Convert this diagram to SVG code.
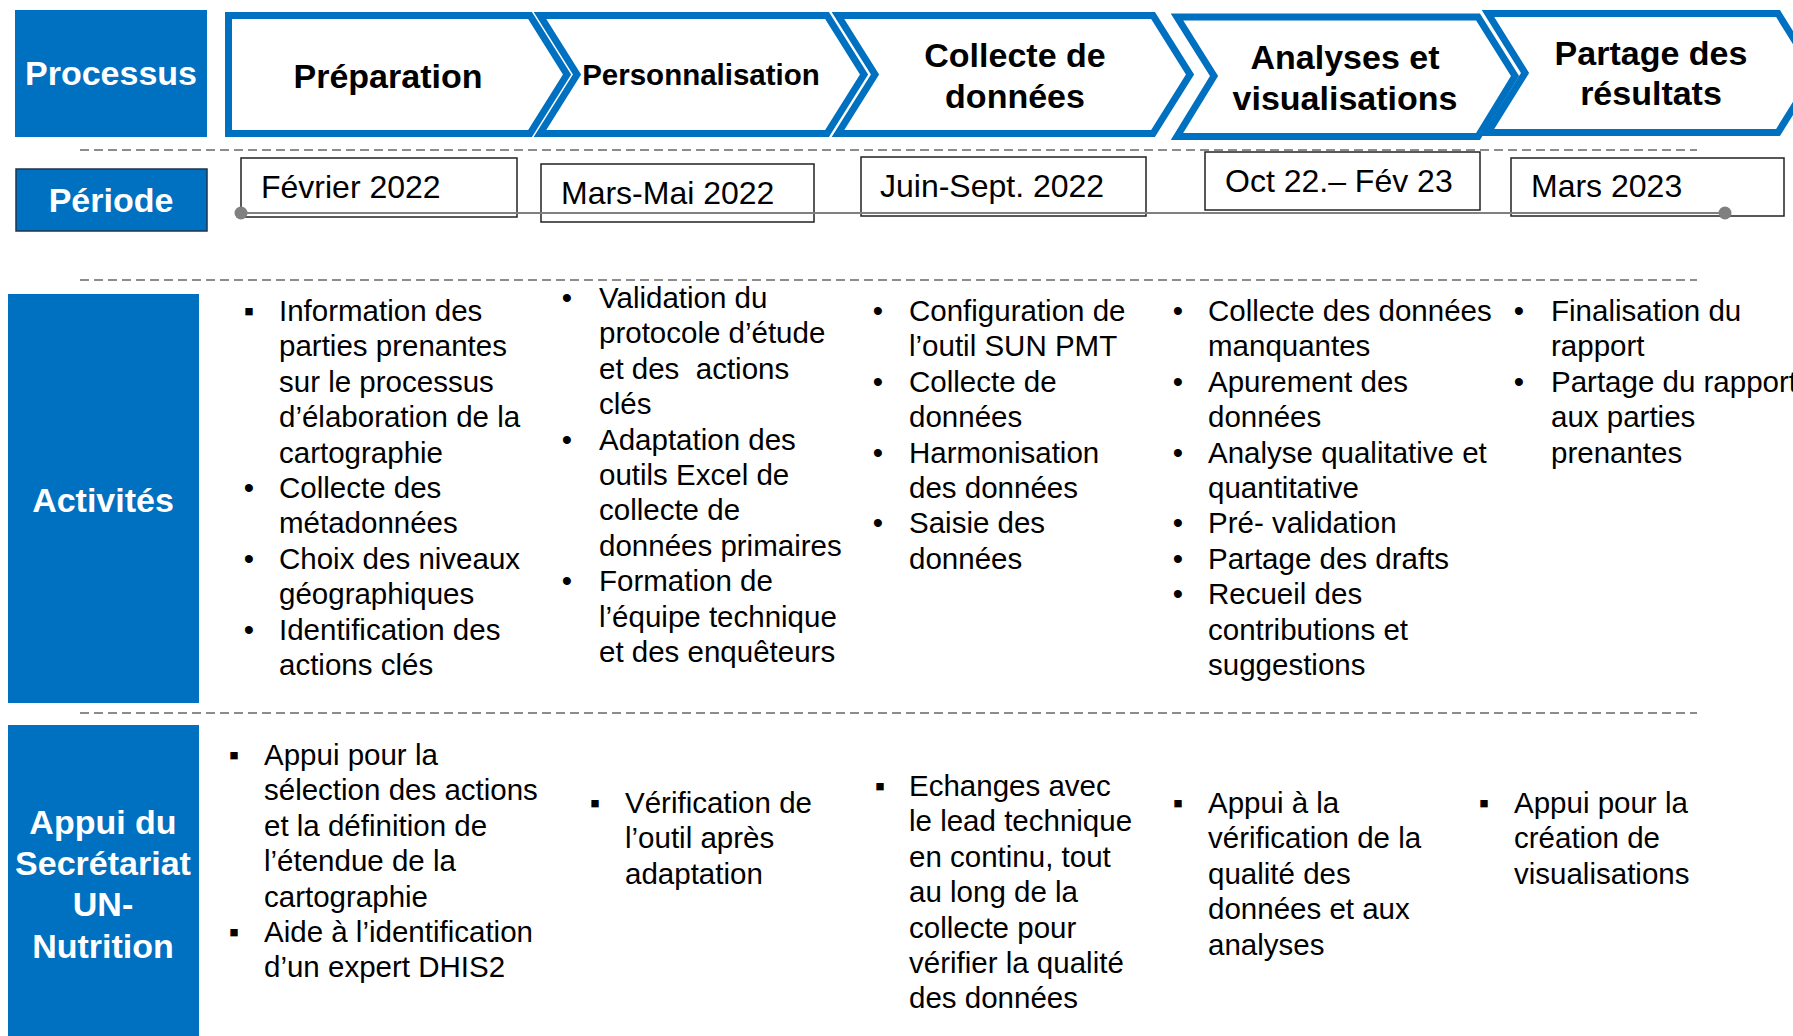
<svg xmlns="http://www.w3.org/2000/svg" width="1793" height="1036" viewBox="0 0 1793 1036">
<style>
.lbl{fill:#0070C0}
.lt{font-family:"Liberation Sans",Arial,sans-serif;font-weight:bold;font-size:34px;fill:#fff;text-anchor:middle}
.chev{fill:#fff;stroke:#0070C0;stroke-width:7;stroke-linejoin:miter}
.ct{font-family:"Liberation Sans",Arial,sans-serif;font-weight:bold;font-size:34px;fill:#000;text-anchor:middle}
.date{fill:#fff;stroke:#222;stroke-width:1.5}
.dt{font-family:"Liberation Sans",Arial,sans-serif;font-size:32px;fill:#000}
.sep{stroke:#8c8c8c;stroke-width:2;stroke-dasharray:9 5;fill:none}
.bt{font-family:"Liberation Sans",Arial,sans-serif;font-size:29.5px;fill:#000;white-space:pre}
.bu{font-family:"Liberation Sans","DejaVu Sans",Arial,sans-serif;font-size:29.5px;fill:#000;text-anchor:middle}
</style>
<rect width="1793" height="1036" fill="#fff"/>

<g id="separators">
<line class="sep" x1="80" y1="150" x2="1697" y2="150"/>
<line class="sep" x1="80" y1="280" x2="1697" y2="280"/>
<line class="sep" x1="80" y1="713" x2="1697" y2="713"/>
</g>

<g id="label-processus">
<rect class="lbl" x="15" y="10" width="192" height="127"/>
<text class="lt" x="111" y="85">Processus</text>
</g>
<g id="label-periode">
<rect class="lbl" x="16" y="169" width="191" height="62" stroke="#1f3350" stroke-width="1.5"/>
<text class="lt" x="111" y="212">Période</text>
</g>
<g id="label-activites">
<rect class="lbl" x="8" y="294" width="191" height="409"/>
<text class="lt" x="103" y="512">Activités</text>
</g>
<g id="label-appui">
<rect class="lbl" x="8" y="725" width="191" height="311"/>
<text class="lt" x="103" y="834">Appui du</text>
<text class="lt" x="103" y="875">Secrétariat</text>
<text class="lt" x="103" y="916">UN-</text>
<text class="lt" x="103" y="958">Nutrition</text>
</g>

<g id="step-preparation">
<path class="chev" d="M228.5,15.5 L530,15.5 L567,74.5 L530,133.5 L228.5,133.5 Z"/>
<text class="ct" x="388" y="88">Préparation</text>
</g>
<g id="step-personnalisation">
<path class="chev" d="M540,15.5 L827,15.5 L864,74.5 L827,133.5 L540,133.5 L577,74.5 Z"/>
<text class="ct" x="701" y="85" style="font-size:29.5px">Personnalisation</text>
</g>
<g id="step-collecte">
<path class="chev" d="M838,15.5 L1153,15.5 L1190,74.5 L1153,133.5 L838,133.5 L875,74.5 Z"/>
<text class="ct" x="1015" y="67">Collecte de</text>
<text class="ct" x="1015" y="108">données</text>
</g>
<g id="step-analyses">
<path class="chev" d="M1177,17 L1478,17 L1515,76 L1478,136.5 L1177,136.5 L1214,76 Z"/>
<text class="ct" x="1345" y="69">Analyses et</text>
<text class="ct" x="1345" y="110">visualisations</text>
</g>
<g id="step-partage">
<path class="chev" d="M1488,13.5 L1778,13.5 L1815,73 L1778,132.5 L1488,132.5 L1525,73 Z"/>
<text class="ct" x="1651" y="65">Partage des</text>
<text class="ct" x="1651" y="105">résultats</text>
</g>

<g id="period-1">
<rect class="date" x="241" y="158" width="276" height="59"/>
<text class="dt" x="261" y="198">Février 2022</text>
</g>
<g id="period-2">
<rect class="date" x="541" y="164" width="273" height="58"/>
<text class="dt" x="561" y="204">Mars-Mai 2022</text>
</g>
<g id="period-3">
<rect class="date" x="861" y="157" width="285" height="59"/>
<text class="dt" x="880" y="197">Juin-Sept. 2022</text>
</g>
<g id="period-4">
<rect class="date" x="1205" y="152" width="275" height="58"/>
<text class="dt" x="1225" y="192">Oct 22.– Fév 23</text>
</g>
<g id="period-5">
<rect class="date" x="1511" y="158" width="273" height="58"/>
<text class="dt" x="1531" y="197">Mars 2023</text>
</g>

<g id="connectors">
<line x1="241" y1="213" x2="1725" y2="213" stroke="#808080" stroke-width="2"/>
<circle cx="241" cy="213" r="6.5" fill="#808080"/>
<circle cx="1725" cy="213" r="6.5" fill="#808080"/>
</g>

<g id="activites-preparation">
<text class="bu" x="249" y="321">▪</text>
<text class="bu" x="249" y="498">•</text>
<text class="bu" x="249" y="568.8">•</text>
<text class="bu" x="249" y="639.6">•</text>
<text class="bt" x="279" y="321">Information des<tspan x="279" dy="35.4">parties prenantes</tspan><tspan x="279" dy="35.4">sur le processus</tspan><tspan x="279" dy="35.4">d’élaboration de la</tspan><tspan x="279" dy="35.4">cartographie</tspan><tspan x="279" dy="35.4">Collecte des</tspan><tspan x="279" dy="35.4">métadonnées</tspan><tspan x="279" dy="35.4">Choix des niveaux</tspan><tspan x="279" dy="35.4">géographiques</tspan><tspan x="279" dy="35.4">Identification des</tspan><tspan x="279" dy="35.4">actions clés</tspan></text>
</g>
<g id="activites-personnalisation">
<text class="bu" x="567" y="308">•</text>
<text class="bu" x="567" y="449.6">•</text>
<text class="bu" x="567" y="591.2">•</text>
<text class="bt" x="599" y="308">Validation du<tspan x="599" dy="35.4">protocole d’étude</tspan><tspan x="599" dy="35.4">et des  actions</tspan><tspan x="599" dy="35.4">clés</tspan><tspan x="599" dy="35.4">Adaptation des</tspan><tspan x="599" dy="35.4">outils Excel de</tspan><tspan x="599" dy="35.4">collecte de</tspan><tspan x="599" dy="35.4">données primaires</tspan><tspan x="599" dy="35.4">Formation de</tspan><tspan x="599" dy="35.4">l’équipe technique</tspan><tspan x="599" dy="35.4">et des enquêteurs</tspan></text>
</g>
<g id="activites-collecte">
<text class="bu" x="878" y="321">•</text>
<text class="bu" x="878" y="391.8">•</text>
<text class="bu" x="878" y="462.6">•</text>
<text class="bu" x="878" y="533.4">•</text>
<text class="bt" x="909" y="321">Configuration de<tspan x="909" dy="35.4">l’outil SUN PMT</tspan><tspan x="909" dy="35.4">Collecte de</tspan><tspan x="909" dy="35.4">données</tspan><tspan x="909" dy="35.4">Harmonisation</tspan><tspan x="909" dy="35.4">des données</tspan><tspan x="909" dy="35.4">Saisie des</tspan><tspan x="909" dy="35.4">données</tspan></text>
</g>
<g id="activites-analyses">
<text class="bu" x="1178" y="321">•</text>
<text class="bu" x="1178" y="391.8">•</text>
<text class="bu" x="1178" y="462.6">•</text>
<text class="bu" x="1178" y="533.4">•</text>
<text class="bu" x="1178" y="568.8">•</text>
<text class="bu" x="1178" y="604.2">•</text>
<text class="bt" x="1208" y="321">Collecte des données<tspan x="1208" dy="35.4">manquantes</tspan><tspan x="1208" dy="35.4">Apurement des</tspan><tspan x="1208" dy="35.4">données</tspan><tspan x="1208" dy="35.4">Analyse qualitative et</tspan><tspan x="1208" dy="35.4">quantitative</tspan><tspan x="1208" dy="35.4">Pré- validation</tspan><tspan x="1208" dy="35.4">Partage des drafts</tspan><tspan x="1208" dy="35.4">Recueil des</tspan><tspan x="1208" dy="35.4">contributions et</tspan><tspan x="1208" dy="35.4">suggestions</tspan></text>
</g>
<g id="activites-partage">
<text class="bu" x="1519" y="321">•</text>
<text class="bu" x="1519" y="391.8">•</text>
<text class="bt" x="1551" y="321">Finalisation du<tspan x="1551" dy="35.4">rapport</tspan><tspan x="1551" dy="35.4">Partage du rapport</tspan><tspan x="1551" dy="35.4">aux parties</tspan><tspan x="1551" dy="35.4">prenantes</tspan></text>
</g>

<g id="appui-preparation">
<text class="bu" x="234" y="765">▪</text>
<text class="bu" x="234" y="942">▪</text>
<text class="bt" x="264" y="765">Appui pour la<tspan x="264" dy="35.4">sélection des actions</tspan><tspan x="264" dy="35.4">et la définition de</tspan><tspan x="264" dy="35.4">l’étendue de la</tspan><tspan x="264" dy="35.4">cartographie</tspan><tspan x="264" dy="35.4">Aide à l’identification</tspan><tspan x="264" dy="35.4">d’un expert DHIS2</tspan></text>
</g>
<g id="appui-personnalisation">
<text class="bu" x="595" y="813">▪</text>
<text class="bt" x="625" y="813">Vérification de<tspan x="625" dy="35.4">l’outil après</tspan><tspan x="625" dy="35.4">adaptation</tspan></text>
</g>
<g id="appui-collecte">
<text class="bu" x="880" y="796">▪</text>
<text class="bt" x="909" y="796">Echanges avec<tspan x="909" dy="35.4">le lead technique</tspan><tspan x="909" dy="35.4">en continu, tout</tspan><tspan x="909" dy="35.4">au long de la</tspan><tspan x="909" dy="35.4">collecte pour</tspan><tspan x="909" dy="35.4">vérifier la qualité</tspan><tspan x="909" dy="35.4">des données</tspan></text>
</g>
<g id="appui-analyses">
<text class="bu" x="1178" y="813">▪</text>
<text class="bt" x="1208" y="813">Appui à la<tspan x="1208" dy="35.4">vérification de la</tspan><tspan x="1208" dy="35.4">qualité des</tspan><tspan x="1208" dy="35.4">données et aux</tspan><tspan x="1208" dy="35.4">analyses</tspan></text>
</g>
<g id="appui-partage">
<text class="bu" x="1484" y="813">▪</text>
<text class="bt" x="1514" y="813">Appui pour la<tspan x="1514" dy="35.4">création de</tspan><tspan x="1514" dy="35.4">visualisations</tspan></text>
</g>
</svg>
